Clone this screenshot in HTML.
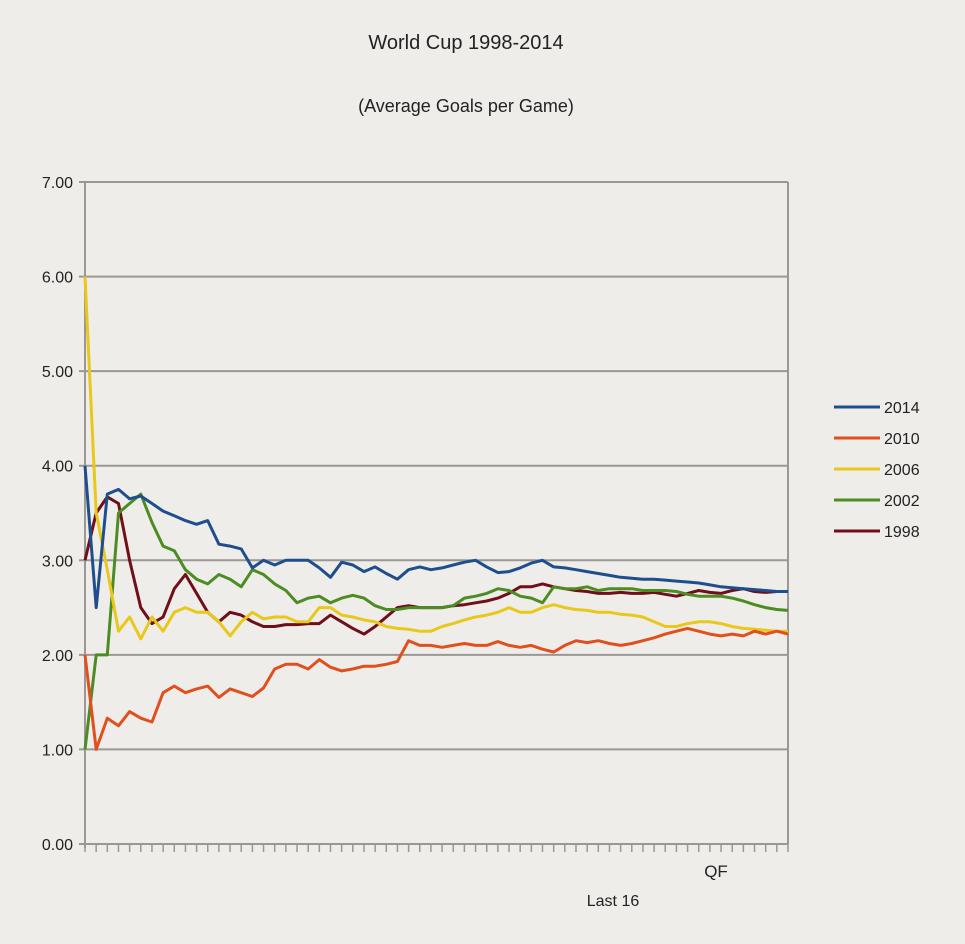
<!DOCTYPE html>
<html><head><meta charset="utf-8"><style>
html,body{margin:0;padding:0;background:#efedea;}
svg{display:block;font-family:"Liberation Sans",sans-serif;}
</style></head><body>
<svg id="chart" width="965" height="944" viewBox="0 0 965 944">
<rect width="965" height="944" fill="#efedea"/>
<text x="466" y="49" font-size="20" text-anchor="middle" fill="#222">World Cup 1998-2014</text>
<text x="466" y="112" font-size="18" text-anchor="middle" fill="#222">(Average Goals per Game)</text>
<g id="grid"></g><g id="series"></g><g id="legend"></g>
<text x="613" y="906" font-size="16" text-anchor="middle" fill="#222">Last 16</text>
<text x="716" y="877" font-size="17" text-anchor="middle" fill="#222">QF</text>
</svg>
<script>
const yTicks=[0,1,2,3,4,5,6,7];
const yTickLabels=["0.00","1.00","2.00","3.00","4.00","5.00","6.00","7.00"];
const seriesNames=["2014","2010","2006","2002","1998"];
const seriesColors=["#1f4e8c","#e0501e","#e8c81a","#4c8c22","#6e0f1a"];
const s2014=[4.0,2.5,3.7,3.75,3.65,3.68,3.6,3.52,3.47,3.42,3.38,3.42,3.17,3.15,3.12,2.92,3.0,2.95,3.0,3.0,3.0,2.92,2.82,2.98,2.95,2.88,2.93,2.86,2.8,2.9,2.93,2.9,2.92,2.95,2.98,3.0,2.93,2.87,2.88,2.92,2.97,3.0,2.93,2.92,2.9,2.88,2.86,2.84,2.82,2.81,2.8,2.8,2.79,2.78,2.77,2.76,2.74,2.72,2.71,2.7,2.69,2.68,2.67,2.67];
const s2010=[2.0,1.0,1.33,1.25,1.4,1.33,1.29,1.6,1.67,1.6,1.64,1.67,1.55,1.64,1.6,1.56,1.65,1.85,1.9,1.9,1.85,1.95,1.87,1.83,1.85,1.88,1.88,1.9,1.93,2.15,2.1,2.1,2.08,2.1,2.12,2.1,2.1,2.14,2.1,2.08,2.1,2.06,2.03,2.1,2.15,2.13,2.15,2.12,2.1,2.12,2.15,2.18,2.22,2.25,2.28,2.25,2.22,2.2,2.22,2.2,2.25,2.22,2.25,2.22];
const s2006=[6.0,3.5,2.9,2.25,2.4,2.17,2.4,2.25,2.45,2.5,2.45,2.45,2.35,2.2,2.35,2.45,2.38,2.4,2.4,2.35,2.35,2.5,2.5,2.42,2.4,2.37,2.35,2.3,2.28,2.27,2.25,2.25,2.3,2.33,2.37,2.4,2.42,2.45,2.5,2.45,2.45,2.5,2.53,2.5,2.48,2.47,2.45,2.45,2.43,2.42,2.4,2.35,2.3,2.3,2.33,2.35,2.35,2.33,2.3,2.28,2.27,2.26,2.25,2.25];
const s2002=[1.0,2.0,2.0,3.5,3.6,3.7,3.4,3.15,3.1,2.9,2.8,2.75,2.85,2.8,2.72,2.9,2.85,2.75,2.68,2.55,2.6,2.62,2.55,2.6,2.63,2.6,2.52,2.48,2.48,2.5,2.5,2.5,2.5,2.52,2.6,2.62,2.65,2.7,2.68,2.62,2.6,2.55,2.72,2.7,2.7,2.72,2.68,2.7,2.7,2.7,2.68,2.68,2.68,2.67,2.64,2.62,2.62,2.62,2.6,2.57,2.53,2.5,2.48,2.47];
const s1998=[3.0,3.5,3.67,3.6,3.0,2.5,2.33,2.4,2.7,2.85,2.65,2.45,2.35,2.45,2.42,2.35,2.3,2.3,2.32,2.32,2.33,2.33,2.42,2.35,2.28,2.22,2.3,2.4,2.5,2.52,2.5,2.5,2.5,2.52,2.53,2.55,2.57,2.6,2.65,2.72,2.72,2.75,2.72,2.7,2.68,2.67,2.65,2.65,2.66,2.65,2.65,2.66,2.64,2.62,2.65,2.68,2.66,2.65,2.68,2.7,2.67,2.66,2.67,2.67];
const allSeries=[s2014,s2010,s2006,s2002,s1998];
const nCats=64;

const NS="http://www.w3.org/2000/svg";
const X0=85,X1=788,Y0=844,Y1=182;
function xs(i){return X0+i*(X1-X0)/(nCats-1);}
function ys(v){return Y0-v*(Y0-Y1)/7;}
function mk(tag,attrs,parent){const e=document.createElementNS(NS,tag);for(const k in attrs)e.setAttribute(k,attrs[k]);parent.appendChild(e);return e;}
const grid=document.getElementById('grid');
yTicks.forEach((t,i)=>{
  const l=mk('line',{x1:X0-6,x2:X1,y1:ys(t),y2:ys(t),stroke:'#9a9794','stroke-width':2},grid);
  
  
  const tx=mk('text',{x:73,y:ys(t)+6,'font-size':16,'text-anchor':'end',fill:'#222'},grid);
  tx.textContent=yTickLabels[i];
  
  
});
const ax=mk('line',{x1:X0,x2:X0,y1:Y1,y2:Y0+4,stroke:'#9a9794','stroke-width':2},grid);


const rb=mk('line',{x1:X1,x2:X1,y1:Y1,y2:Y0,stroke:'#9a9794','stroke-width':2},grid);


for(let i=0;i<nCats;i++){
  const tk=mk('line',{x1:xs(i),x2:xs(i),y1:Y0,y2:Y0+8,stroke:'#9a9794','stroke-width':1.5},grid);
  
  
}
const sg=document.getElementById('series');
for(let s=allSeries.length-1;s>=0;s--){
  const d=allSeries[s];
  const pts=d.map((v,i)=>xs(i).toFixed(1)+','+ys(v).toFixed(1)).join(' ');
  const p=mk('polyline',{points:pts,fill:'none',stroke:seriesColors[s],'stroke-width':3,'stroke-linejoin':'round'},sg);
  
  
}
const lg=document.getElementById('legend');
seriesNames.forEach((n,i)=>{
  const y=407+i*31;
  const l=mk('line',{x1:834,x2:880,y1:y,y2:y,stroke:seriesColors[i],'stroke-width':3},lg);
  
  
  const t=mk('text',{x:884,y:y+6,'font-size':16,fill:'#222'},lg);
  t.textContent=n;
  
  
});
</script>
</body></html>
